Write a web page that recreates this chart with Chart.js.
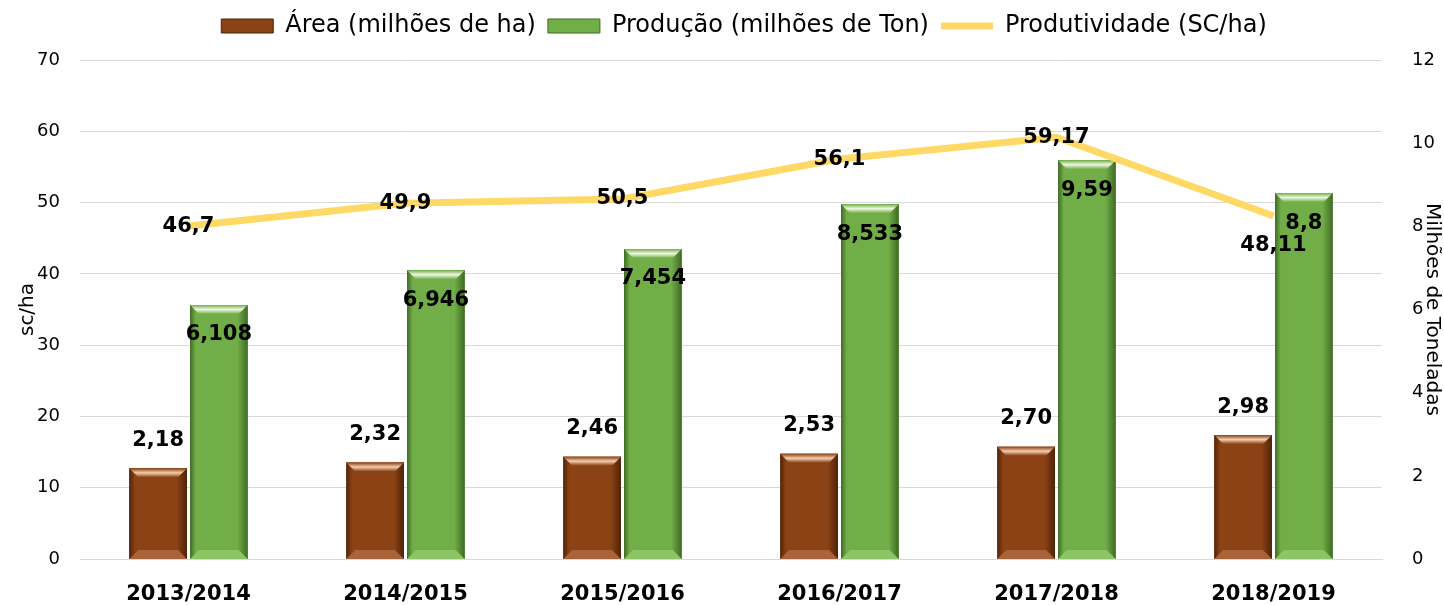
<!DOCTYPE html>
<html>
<head>
<meta charset="utf-8">
<script src="https://cdn.jsdelivr.net/npm/chart.js@4/dist/chart.umd.min.js"></script>
<style>
  html, body { margin: 0; padding: 0; background: #fff; }
  #wrap { width: 1444px; height: 605px; }
</style>
</head>
<body>
<div id="wrap"><canvas id="chart"></canvas></div>
<script>
const safras = ['2013/2014', '2014/2015', '2015/2016', '2016/2017', '2017/2018', '2018/2019'];
const area = [2.18, 2.32, 2.46, 2.53, 2.70, 2.98];           // milhões de ha
const producao = [6.108, 6.946, 7.454, 8.533, 9.59, 8.8];     // milhões de ton
const produtividade = [46.7, 49.9, 50.5, 56.1, 59.17, 48.11]; // sc/ha
const leftTicks = [0, 10, 20, 30, 40, 50, 60, 70];
const rightTicks = [0, 2, 4, 6, 8, 10, 12];

const FONT = '"DejaVu Sans", sans-serif';
const comma = v => String(v).replace('.', ',');

// bevel look for the bars, drawn over each bar dataset
const bevelColors = {
    0: { base: '#8b4214', dark: '#4f230a', light: '#f3cdb0', low: '#a8633a' },
    1: { base: '#72ae48', dark: '#3f6a24', light: '#eef8e2', low: '#8cc466' }
};

const bevelPlugin = {
    id: 'bevel',
    afterDatasetDraw(chart, args) {
        const c = bevelColors[args.index];
        if (!c) return;
        const ctx = chart.ctx;
        args.meta.data.forEach(bar => {
            const x0 = bar.x - bar.width / 2, x1 = bar.x + bar.width / 2;
            const top = bar.y, bottom = bar.base;
            const b = 9;
            ctx.save();
            const g = ctx.createLinearGradient(x0, 0, x1, 0);
            g.addColorStop(0, c.dark);
            g.addColorStop(0.1, c.base);
            g.addColorStop(0.82, c.base);
            g.addColorStop(1, c.dark);
            ctx.fillStyle = g;
            ctx.fillRect(x0, top, x1 - x0, bottom - top);
            // top bevel
            const gt = ctx.createLinearGradient(0, top, 0, top + b);
            gt.addColorStop(0, c.base);
            gt.addColorStop(0.5, c.light);
            gt.addColorStop(1, c.base);
            ctx.fillStyle = gt;
            ctx.beginPath();
            ctx.moveTo(x0, top); ctx.lineTo(x1, top);
            ctx.lineTo(x1 - b, top + b); ctx.lineTo(x0 + b, top + b);
            ctx.closePath(); ctx.fill();
            // bottom bevel
            ctx.fillStyle = c.low;
            ctx.beginPath();
            ctx.moveTo(x0, bottom); ctx.lineTo(x1, bottom);
            ctx.lineTo(x1 - b, bottom - b); ctx.lineTo(x0 + b, bottom - b);
            ctx.closePath(); ctx.fill();
            ctx.restore();
        });
    }
};

// value labels
const labelPlugin = {
    id: 'valueLabels',
    afterDatasetsDraw(chart) {
        const ctx = chart.ctx;
        ctx.save();
        ctx.font = 'bold 21px ' + FONT;
        ctx.fillStyle = '#000';
        ctx.textAlign = 'center';
        ctx.textBaseline = 'middle';
        chart.data.datasets.forEach((ds, i) => {
            const meta = chart.getDatasetMeta(i);
            meta.data.forEach((el, j) => {
                const v = ds.data[j];
                let txt, y = el.y;
                if (i === 0) { txt = v.toFixed(2).replace('.', ','); y = el.y - 28; }
                else if (i === 1) { txt = comma(v); y = el.y + 30; }
                else { txt = comma(v); y = (j === ds.data.length - 1) ? el.y + 30 : el.y; }
                ctx.fillText(txt, el.x, y);
            });
        });
        ctx.restore();
    }
};

// extra room under the legend, and nudge it a bit to the right
const legendSpace = {
    id: 'legendSpace',
    beforeInit(chart) {
        const fit = chart.legend.fit;
        chart.legend.fit = function () {
            fit.call(this);
            this.height += 12;
        };
    },
    afterLayout(chart) {
        chart.legend.left += 44;
    }
};

new Chart(document.getElementById('chart'), {
    type: 'bar',
    data: {
        labels: safras,
        datasets: [
            {
                label: 'Área (milhões de ha)',
                data: area,
                backgroundColor: '#8b4214',
                yAxisID: 'y1',
                categoryPercentage: 0.56,
                barPercentage: 0.95,
                order: 1
            },
            {
                label: 'Produção (milhões de Ton)',
                data: producao,
                backgroundColor: '#72ae48',
                yAxisID: 'y1',
                categoryPercentage: 0.56,
                barPercentage: 0.95,
                order: 1
            },
            {
                type: 'line',
                label: 'Produtividade (SC/ha)',
                data: produtividade,
                borderColor: '#ffd966',
                backgroundColor: '#ffd966',
                borderWidth: 7,
                pointRadius: 0,
                yAxisID: 'y',
                order: 0
            }
        ]
    },
    options: {
        responsive: true,
        maintainAspectRatio: false,
        animation: false,
        layout: { padding: { top: 2, left: 0, right: 0, bottom: 0 } },
        scales: {
            x: {
                grid: { display: false },
                border: { display: true, color: '#d9d9d9' },
                ticks: { color: '#000', padding: 15, font: { family: FONT, size: 21, weight: 'bold' } },
                afterFit: s => { s.height = 46; }
            },
            y: {
                position: 'left',
                min: 0, max: 70,
                afterBuildTicks: s => { s.ticks = leftTicks.map(v => ({ value: v })); },
                grid: { color: '#d9d9d9', drawTicks: false },
                border: { display: false },
                ticks: { color: '#000', padding: 20, font: { family: FONT, size: 18 } },
                title: { display: true, text: 'sc/ha', color: '#000', padding: { top: 16 }, font: { family: FONT, size: 20 } },
                afterFit: s => { s.width = 80; }
            },
            y1: {
                position: 'right',
                min: 0, max: 12,
                afterBuildTicks: s => { s.ticks = rightTicks.map(v => ({ value: v })); },
                grid: { display: false },
                border: { display: false },
                ticks: { color: '#000', padding: 22, font: { family: FONT, size: 18 } },
                title: { display: true, text: 'Milhões de Toneladas', color: '#000', padding: { top: 0 }, font: { family: FONT, size: 20 } },
                afterFit: s => { s.width = 62; }
            }
        },
        plugins: {
            legend: {
                position: 'top',
                labels: {
                    color: '#000',
                    font: { family: FONT, size: 24 },
                    usePointStyle: true,
                    pointStyleWidth: 52,
                    boxHeight: 14,
                    padding: 12,
                    generateLabels(chart) {
                        return chart.data.datasets.map((ds, i) => ({
                            text: ds.label,
                            datasetIndex: i,
                            fillStyle: i === 2 ? '#ffd966' : bevelColors[i].base,
                            strokeStyle: i === 2 ? '#ffd966' : bevelColors[i].dark,
                            lineWidth: i === 2 ? 7 : 1,
                            pointStyle: i === 2 ? 'line' : 'rect',
                            fontColor: '#000',
                            hidden: false
                        }));
                    }
                }
            },
            tooltip: { enabled: false }
        }
    },
    plugins: [bevelPlugin, labelPlugin, legendSpace]
});
</script>
</body>
</html>
